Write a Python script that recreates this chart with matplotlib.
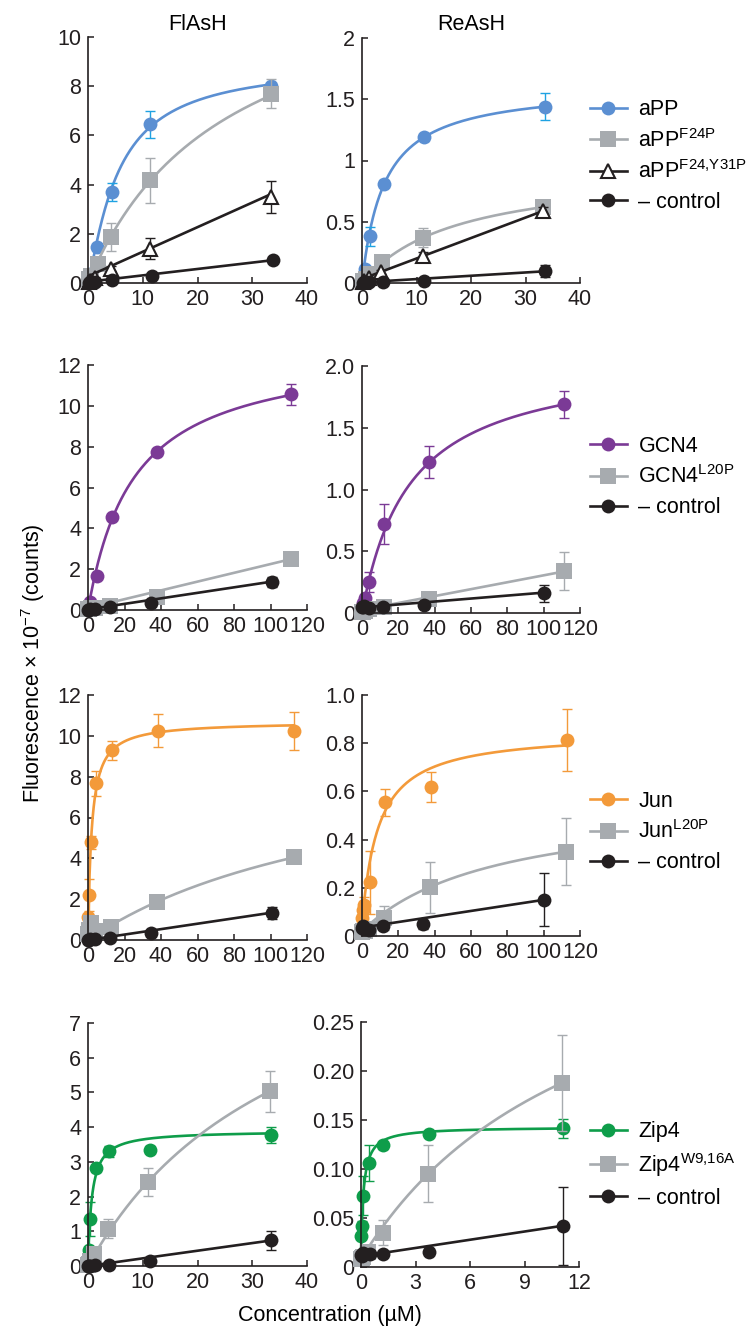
import numpy as np
import matplotlib
matplotlib.use("Agg")
import matplotlib.pyplot as plt
from matplotlib.lines import Line2D

plt.rcParams["font.family"] = ["Liberation Sans", "DejaVu Sans"]
plt.rcParams["mathtext.fontset"] = "custom"
plt.rcParams["mathtext.rm"] = "Liberation Sans"
plt.rcParams["mathtext.it"] = "Liberation Sans:italic"

BLUE, BLUE_ERR = "#5b8fd2", "#1ea2e2"
GRAY = "#a7abaf"
PURPLE = "#7b3a96"
ORANGE = "#f39a3a"
GREEN = "#0e9d4a"
BLACK = "#231f20"

# ---------------------------------------------------------------------------
# Data.  Fit = (offset, slope, Bmax, Kd, hill)
# ---------------------------------------------------------------------------

# FlAsH, aPP
FL_APP_X = [0.14, 0.45, 1.6, 4.3, 11.4, 33.4]
FL_APP_Y = [0.10, 0.35, 1.45, 3.70, 6.45, 8.00]
FL_APP_E = [0.03, 0.05, 0.15, 0.38, 0.56, 0.15]
FL_APP_FIT = (0.0, 0.0, 9.0, 5.5, 1.2)

FL_F24P_X = [0.2, 0.6, 1.9, 4.2, 11.4, 33.5]
FL_F24P_Y = [0.15, 0.30, 0.78, 1.88, 4.17, 7.70]
FL_F24P_E = [0.10, 0.10, 0.20, 0.57, 0.90, 0.60]
FL_F24P_FIT = (0.0, 0.0, 13.4, 25.3, 1.0)

FL_Y31P_X = [0.14, 0.45, 1.3, 4.2, 11.4, 33.5]
FL_Y31P_Y = [0.05, 0.10, 0.20, 0.58, 1.40, 3.50]
FL_Y31P_E = [0.02, 0.03, 0.05, 0.10, 0.43, 0.65]
FL_Y31P_FIT = (0.27, 0.10, 0.0, 1.0, 1.0)

FL_CTL1_X = [0.14, 0.45, 1.3, 4.35, 11.6, 33.7]
FL_CTL1_Y = [0.02, 0.03, 0.05, 0.14, 0.27, 0.92]
FL_CTL1_E = [0.02, 0.02, 0.02, 0.02, 0.05, 0.10]
FL_CTL1_FIT = (0.05, 0.026, 0.0, 1.0, 1.0)

# ReAsH, aPP
RE_APP_X = [0.15, 0.5, 1.4, 3.97, 11.4, 33.6]
RE_APP_Y = [0.04, 0.117, 0.38, 0.81, 1.19, 1.44]
RE_APP_E = [0.01, 0.02, 0.08, 0.03, 0.03, 0.11]
RE_APP_FIT = (0.0, 0.0, 1.614, 4.06, 1.0)

RE_F24P_X = [0.15, 0.67, 1.4, 3.7, 11.2, 33.3]
RE_F24P_Y = [0.02, 0.035, 0.07, 0.17, 0.37, 0.62]
RE_F24P_E = [0.01, 0.01, 0.02, 0.03, 0.08, 0.03]
RE_F24P_FIT = (0.0, 0.0, 0.942, 17.3, 1.0)

RE_Y31P_X = [0.15, 0.45, 1.3, 3.5, 11.2, 33.3]
RE_Y31P_Y = [0.01, 0.02, 0.04, 0.09, 0.22, 0.59]
RE_Y31P_E = [0.01, 0.01, 0.01, 0.02, 0.03, 0.03]
RE_Y31P_FIT = (0.033, 0.0167, 0.0, 1.0, 1.0)

RE_CTL1_X = [0.15, 0.45, 1.3, 3.85, 11.4, 33.6]
RE_CTL1_Y = [0.0, 0.005, 0.01, 0.01, 0.016, 0.10]
RE_CTL1_E = [0.005, 0.005, 0.005, 0.005, 0.005, 0.05]
RE_CTL1_FIT = (0.005, 0.0027, 0.0, 1.0, 1.0)

# FlAsH, GCN4
FL_GCN4_X = [0.15, 0.46, 1.1, 4.7, 12.9, 37.6, 111.4]
FL_GCN4_Y = [0.05, 0.15, 0.40, 1.67, 4.54, 7.76, 10.56]
FL_GCN4_E = [0.02, 0.03, 0.05, 0.10, 0.15, 0.15, 0.50]
FL_GCN4_FIT = (0.0, 0.0, 12.9, 25.0, 1.0)

FL_L20P_X = [0.15, 0.46, 1.4, 4.1, 12.3, 38.0, 111.4]
FL_L20P_Y = [0.05, 0.05, 0.08, 0.10, 0.20, 0.65, 2.48]
FL_L20P_E = [0.02, 0.02, 0.02, 0.03, 0.05, 0.08, 0.10]
FL_L20P_FIT = (0.10, 0.0215, 0.0, 1.0, 1.0)

FL_CTL2_X = [0.14, 0.41, 1.2, 3.7, 12.0, 34.3, 100.9]
FL_CTL2_Y = [0.02, 0.02, 0.03, 0.05, 0.16, 0.36, 1.39]
FL_CTL2_E = [0.02, 0.02, 0.02, 0.02, 0.05, 0.08, 0.25]
FL_CTL2_FIT = (0.03, 0.0135, 0.0, 1.0, 1.0)

# ReAsH, GCN4
RE_GCN4_X = [0.15, 0.55, 1.4, 4.0, 11.9, 37.0, 111.4]
RE_GCN4_Y = [0.03, 0.08, 0.12, 0.25, 0.72, 1.22, 1.69]
RE_GCN4_E = [0.01, 0.02, 0.03, 0.08, 0.16, 0.13, 0.11]
RE_GCN4_FIT = (0.0, 0.0, 2.09, 26.4, 1.0)

RE_L20P_X = [0.15, 0.46, 1.4, 4.1, 12.0, 37.0, 111.0]
RE_L20P_Y = [0.01, 0.01, 0.02, 0.03, 0.05, 0.11, 0.34]
RE_L20P_E = [0.01, 0.01, 0.01, 0.01, 0.02, 0.03, 0.15]
RE_L20P_FIT = (0.025, 0.0028, 0.0, 1.0, 1.0)

RE_CTL2_X = [0.14, 0.41, 1.2, 3.7, 11.4, 34.0, 100.0]
RE_CTL2_Y = [0.05, 0.05, 0.054, 0.043, 0.05, 0.062, 0.16]
RE_CTL2_E = [0.01, 0.01, 0.01, 0.01, 0.01, 0.02, 0.07]
RE_CTL2_FIT = (0.045, 0.0012, 0.0, 1.0, 1.0)

# FlAsH, Jun
FL_JUN_X = [0.1, 0.5, 1.8, 4.6, 13.0, 38.4, 113.0]
FL_JUN_Y = [1.14, 2.20, 4.78, 7.67, 9.30, 10.25, 10.25]
FL_JUN_E = [0.10, 0.80, 0.30, 0.62, 0.47, 0.80, 0.94]
FL_JUN_FIT = (0.0, 0.0, 10.7, 2.0, 1.0)

FL_JL20P_X = [0.15, 0.5, 1.5, 4.1, 12.4, 38.0, 113.0]
FL_JL20P_Y = [0.30, 0.50, 0.85, 0.45, 0.62, 1.88, 4.05]
FL_JL20P_E = [0.05, 0.05, 0.05, 0.05, 0.05, 0.08, 0.10]
FL_JL20P_FIT = (0.0, 0.0, 9.75, 159.0, 1.0)

FL_CTL3_X = [0.14, 0.41, 1.2, 3.7, 12.0, 34.4, 101.0]
FL_CTL3_Y = [0.02, 0.02, 0.03, 0.04, 0.11, 0.33, 1.34]
FL_CTL3_E = [0.02, 0.02, 0.02, 0.02, 0.05, 0.08, 0.30]
FL_CTL3_FIT = (0.0, 0.0133, 0.0, 1.0, 1.0)

# ReAsH, Jun
RE_JUN_X = [0.05, 0.5, 1.3, 4.4, 12.8, 37.8, 112.7]
RE_JUN_Y = [0.075, 0.107, 0.13, 0.223, 0.555, 0.618, 0.812]
RE_JUN_E = [0.01, 0.02, 0.03, 0.13, 0.057, 0.062, 0.128]
RE_JUN_FIT = (0.05, 0.0, 0.80, 9.0, 1.0)

RE_JL20P_X = [0.15, 0.46, 1.4, 4.1, 12.2, 37.3, 112.3]
RE_JL20P_Y = [0.018, 0.02, 0.02, 0.03, 0.075, 0.203, 0.35]
RE_JL20P_E = [0.01, 0.01, 0.01, 0.02, 0.05, 0.106, 0.14]
RE_JL20P_FIT = (0.02, 0.0, 0.549, 74.6, 1.0)

RE_CTL3_X = [0.14, 0.41, 1.2, 4.0, 11.3, 33.6, 100.0]
RE_CTL3_Y = [0.034, 0.04, 0.03, 0.025, 0.042, 0.048, 0.15]
RE_CTL3_E = [0.005, 0.005, 0.005, 0.005, 0.005, 0.02, 0.11]
RE_CTL3_FIT = (0.035, 0.00115, 0.0, 1.0, 1.0)

# FlAsH, Zip4
FL_ZIP_X = [0.04, 0.12, 0.37, 1.4, 3.84, 11.3, 33.4]
FL_ZIP_Y = [0.15, 0.45, 1.35, 2.82, 3.30, 3.35, 3.78]
FL_ZIP_E = [0.05, 0.10, 0.50, 0.10, 0.15, 0.10, 0.23]
FL_ZIP_FIT = (0.0, 0.0, 3.9, 0.7, 1.0)

FL_W916_X = [0.04, 0.12, 0.37, 1.1, 3.66, 11.0, 33.3]
FL_W916_Y = [0.02, 0.05, 0.15, 0.36, 1.08, 2.43, 5.04]
FL_W916_E = [0.02, 0.05, 0.10, 0.15, 0.27, 0.40, 0.59]
FL_W916_FIT = (0.0, 0.0, 10.72, 37.5, 1.0)

FL_CTL4_X = [0.04, 0.12, 0.37, 1.2, 3.84, 11.3, 33.4]
FL_CTL4_Y = [0.0, 0.01, 0.01, 0.02, 0.03, 0.14, 0.74]
FL_CTL4_E = [0.01, 0.01, 0.01, 0.01, 0.02, 0.05, 0.28]
FL_CTL4_FIT = (0.0, 0.022, 0.0, 1.0, 1.0)

# ReAsH, Zip4
RE_ZIP_X = [0.015, 0.04, 0.13, 0.44, 1.23, 3.74, 11.1]
RE_ZIP_Y = [0.0317, 0.0416, 0.0726, 0.106, 0.124, 0.136, 0.1415]
RE_ZIP_E = [0.003, 0.005, 0.02, 0.018, 0.004, 0.002, 0.01]
RE_ZIP_FIT = (0.015, 0.0, 0.128, 0.15, 1.0)

RE_W916_X = [0.015, 0.04, 0.13, 0.4, 1.19, 3.7, 11.07]
RE_W916_Y = [0.008, 0.009, 0.01, 0.015, 0.035, 0.095, 0.188]
RE_W916_E = [0.002, 0.002, 0.002, 0.003, 0.013, 0.029, 0.049]
RE_W916_FIT = (0.008, 0.0, 0.388, 12.8, 1.0)

RE_CTL4_X = [0.015, 0.04, 0.13, 0.5, 1.23, 3.74, 11.1]
RE_CTL4_Y = [0.012, 0.011, 0.014, 0.013, 0.013, 0.0153, 0.042]
RE_CTL4_E = [0.002, 0.002, 0.002, 0.002, 0.002, 0.003, 0.04]
RE_CTL4_FIT = (0.011, 0.0028, 0.0, 1.0, 1.0)

# Tick labels
XT_40, XT_120, XT_12 = [0, 10, 20, 30, 40], [0, 20, 40, 60, 80, 100, 120], [0, 3, 6, 9, 12]
YT_A = ["0", "2", "4", "6", "8", "10"]
YT_B = ["0", "0.5", "1", "1.5", "2"]
YT_C = ["0", "2", "4", "6", "8", "10", "12"]
YT_D = ["0", "0.5", "1.0", "1.5", "2.0"]
YT_E = ["0", "2", "4", "6", "8", "10", "12"]
YT_F = ["0", "0.2", "0.4", "0.6", "0.8", "1.0"]
YT_G = ["0", "1", "2", "3", "4", "5", "6", "7"]
YT_H = ["0", "0.05", "0.10", "0.15", "0.20", "0.25"]

LEG_1 = ["aPP", r"aPP$^{\mathrm{F24P}}$", r"aPP$^{\mathrm{F24{,}Y31P}}$", "\u2013 control"]
LEG_2 = ["GCN4", r"GCN4$^{\mathrm{L20P}}$", "\u2013 control"]
LEG_3 = ["Jun", r"Jun$^{\mathrm{L20P}}$", "\u2013 control"]
LEG_4 = ["Zip4", r"Zip4$^{\mathrm{W9{,}16A}}$", "\u2013 control"]

# ---------------------------------------------------------------------------
W, H = 750, 1330
fig = plt.figure(figsize=(W / 100, H / 100), dpi=100)


def make_ax(l, r, t, b):
    ax = fig.add_axes([l / W, 1 - b / H, (r - l) / W, (b - t) / H])
    for s in ("top", "right"):
        ax.spines[s].set_visible(False)
    for s in ("left", "bottom"):
        ax.spines[s].set_linewidth(1.2)
        ax.spines[s].set_color(BLACK)
    ax.tick_params(direction="in", length=4.5, width=1.1, labelsize=15.5,
                   colors=BLACK)
    ax.tick_params(axis="y", pad=5)
    ax.tick_params(axis="x", pad=4)
    return ax


def style(kind, color):
    if kind == "circle":
        return dict(marker="o", ms=10, mfc=color, mec=color, mew=0)
    if kind == "square":
        return dict(marker="s", ms=11, mfc=color, mec=color, mew=0)
    return dict(marker="^", ms=10, mfc="white", mec=color, mew=1.5)


def series(ax, x, y, err, fit, color, kind, ecolor=None):
    c, m, b, k, n = fit
    xs = np.linspace(0, max(x), 400)
    ys = c + m * xs + b * xs ** n / (k ** n + xs ** n)
    ax.plot(xs, ys, color=color, lw=1.9, solid_capstyle="round", clip_on=False)
    ax.errorbar(x, y, yerr=err, fmt="none", ecolor=ecolor or color,
                elinewidth=1.0, capsize=3.5, capthick=1.0, clip_on=False)
    ax.plot(x, y, ls="none", clip_on=False, **style(kind, color))


def finish(ax, xmax, xt, ymax, ylabels):
    ax.set_xlim(0, xmax)
    ax.set_ylim(0, ymax)
    ax.set_xticks(xt)
    ax.set_yticks(np.linspace(0, ymax, len(ylabels)))
    ax.set_yticklabels(ylabels)


def legend(cy, specs, labels):
    handles = [Line2D([], [], color=c, lw=1.9, **style(k, c)) for c, k in specs]
    fig.legend(handles, labels, loc="center left",
               bbox_to_anchor=(590 / W, 1 - cy / H), frameon=False,
               fontsize=15.5, handlelength=1.7, handletextpad=0.55,
               labelspacing=0.4, borderpad=0, borderaxespad=0)


# Row 1: aPP
ax = make_ax(88, 307, 37, 283)
series(ax, FL_APP_X, FL_APP_Y, FL_APP_E, FL_APP_FIT, BLUE, "circle", BLUE_ERR)
series(ax, FL_F24P_X, FL_F24P_Y, FL_F24P_E, FL_F24P_FIT, GRAY, "square")
series(ax, FL_Y31P_X, FL_Y31P_Y, FL_Y31P_E, FL_Y31P_FIT, BLACK, "triangle")
series(ax, FL_CTL1_X, FL_CTL1_Y, FL_CTL1_E, FL_CTL1_FIT, BLACK, "circle")
finish(ax, 40, XT_40, 10, YT_A)

ax = make_ax(362, 580, 38, 283)
series(ax, RE_APP_X, RE_APP_Y, RE_APP_E, RE_APP_FIT, BLUE, "circle", BLUE_ERR)
series(ax, RE_F24P_X, RE_F24P_Y, RE_F24P_E, RE_F24P_FIT, GRAY, "square")
series(ax, RE_Y31P_X, RE_Y31P_Y, RE_Y31P_E, RE_Y31P_FIT, BLACK, "triangle")
series(ax, RE_CTL1_X, RE_CTL1_Y, RE_CTL1_E, RE_CTL1_FIT, BLACK, "circle")
finish(ax, 40, XT_40, 2, YT_B)
legend(156, [(BLUE, "circle"), (GRAY, "square"), (BLACK, "triangle"),
             (BLACK, "circle")], LEG_1)

# Row 2: GCN4
ax = make_ax(88, 307, 365, 610)
series(ax, FL_GCN4_X, FL_GCN4_Y, FL_GCN4_E, FL_GCN4_FIT, PURPLE, "circle")
series(ax, FL_L20P_X, FL_L20P_Y, FL_L20P_E, FL_L20P_FIT, GRAY, "square")
series(ax, FL_CTL2_X, FL_CTL2_Y, FL_CTL2_E, FL_CTL2_FIT, BLACK, "circle")
finish(ax, 120, XT_120, 12, YT_C)

ax = make_ax(362, 580, 366, 613)
series(ax, RE_GCN4_X, RE_GCN4_Y, RE_GCN4_E, RE_GCN4_FIT, PURPLE, "circle")
series(ax, RE_L20P_X, RE_L20P_Y, RE_L20P_E, RE_L20P_FIT, GRAY, "square")
series(ax, RE_CTL2_X, RE_CTL2_Y, RE_CTL2_E, RE_CTL2_FIT, BLACK, "circle")
finish(ax, 120, XT_120, 2, YT_D)
legend(477, [(PURPLE, "circle"), (GRAY, "square"), (BLACK, "circle")], LEG_2)

# Row 3: Jun
ax = make_ax(88, 307, 695, 940)
series(ax, FL_JUN_X, FL_JUN_Y, FL_JUN_E, FL_JUN_FIT, ORANGE, "circle")
series(ax, FL_JL20P_X, FL_JL20P_Y, FL_JL20P_E, FL_JL20P_FIT, GRAY, "square")
series(ax, FL_CTL3_X, FL_CTL3_Y, FL_CTL3_E, FL_CTL3_FIT, BLACK, "circle")
finish(ax, 120, XT_120, 12, YT_E)

ax = make_ax(362, 580, 695, 936)
series(ax, RE_JUN_X, RE_JUN_Y, RE_JUN_E, RE_JUN_FIT, ORANGE, "circle")
series(ax, RE_JL20P_X, RE_JL20P_Y, RE_JL20P_E, RE_JL20P_FIT, GRAY, "square")
series(ax, RE_CTL3_X, RE_CTL3_Y, RE_CTL3_E, RE_CTL3_FIT, BLACK, "circle")
finish(ax, 120, XT_120, 1.0, YT_F)
legend(832, [(ORANGE, "circle"), (GRAY, "square"), (BLACK, "circle")], LEG_3)

# Row 4: Zip4
ax = make_ax(88, 307, 1023, 1266)
series(ax, FL_ZIP_X, FL_ZIP_Y, FL_ZIP_E, FL_ZIP_FIT, GREEN, "circle")
series(ax, FL_W916_X, FL_W916_Y, FL_W916_E, FL_W916_FIT, GRAY, "square")
series(ax, FL_CTL4_X, FL_CTL4_Y, FL_CTL4_E, FL_CTL4_FIT, BLACK, "circle")
finish(ax, 40, XT_40, 7, YT_G)

ax = make_ax(361, 579, 1022, 1267)
series(ax, RE_ZIP_X, RE_ZIP_Y, RE_ZIP_E, RE_ZIP_FIT, GREEN, "circle")
series(ax, RE_W916_X, RE_W916_Y, RE_W916_E, RE_W916_FIT, GRAY, "square")
series(ax, RE_CTL4_X, RE_CTL4_Y, RE_CTL4_E, RE_CTL4_FIT, BLACK, "circle")
finish(ax, 12, XT_12, 0.25, YT_H)
legend(1165, [(GREEN, "circle"), (GRAY, "square"), (BLACK, "circle")], LEG_4)

# Shared texts
fig.text(197.5 / W, 1 - 25 / H, "FlAsH", ha="center", va="center", fontsize=15.5)
fig.text(471 / W, 1 - 24 / H, "ReAsH", ha="center", va="center", fontsize=15.5)
fig.text(33 / W, 1 - 663 / H, r"Fluorescence × 10$^{-7}$ (counts)",
         rotation=90, ha="center", va="center", fontsize=15.5)
fig.text(330 / W, 1 - 1316 / H, "Concentration (\u00b5M)", ha="center",
         va="center", fontsize=15.5)

fig.savefig("out.png", dpi=100)
